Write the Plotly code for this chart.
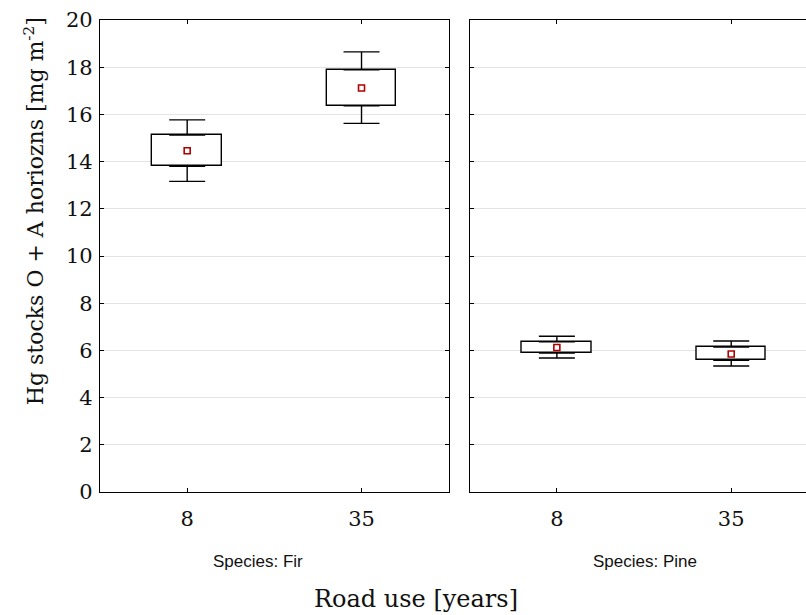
import plotly.graph_objects as go

# ---- data ----
categories = ["8", "35"]
species = ["Fir", "Pine"]
mean_fir = [14.46, 17.12]
q1_fir = [13.80, 16.36]
q3_fir = [15.12, 17.89]
low_fir = [13.16, 15.62]
high_fir = [15.77, 18.65]

mean_pine = [6.12, 5.85]
q1_pine = [5.89, 5.58]
q3_pine = [6.36, 6.14]
low_pine = [5.68, 5.34]
high_pine = [6.60, 6.40]

y_ticks = list(range(0, 21, 2))

W, H = 806, 615
ML, MR, MT, MB = 100, 0, 19.5, 122.7
PW = W - ML - MR
PH = H - MT - MB

SERIF = "DejaVu Serif"
SANS = "Liberation Sans"
TXT = "#111111"

fig = go.Figure()

def add_panel(xa, ya, q1, q3, lo, hi, mn):
    # box body (q1 .. q3)
    fig.add_trace(go.Bar(
        x=categories, y=[b - a for a, b in zip(q1, q3)], base=q1, width=0.4,
        marker=dict(color="white", line=dict(color="black", width=1.4)),
        xaxis=xa, yaxis=ya, showlegend=False, hoverinfo="skip"))
    # upper whisker (q3 .. hi)
    fig.add_trace(go.Scatter(
        x=categories, y=q3, mode="markers",
        marker=dict(size=1, color="rgba(0,0,0,0)"),
        error_y=dict(type="data", symmetric=False,
                     array=[h - b for b, h in zip(q3, hi)], arrayminus=[0, 0],
                     color="black", thickness=1.4, width=18),
        xaxis=xa, yaxis=ya, showlegend=False, hoverinfo="skip"))
    # lower whisker (lo .. q1)
    fig.add_trace(go.Scatter(
        x=categories, y=q1, mode="markers",
        marker=dict(size=1, color="rgba(0,0,0,0)"),
        error_y=dict(type="data", symmetric=False,
                     array=[0, 0], arrayminus=[a - l for a, l in zip(q1, lo)],
                     color="black", thickness=1.4, width=18),
        xaxis=xa, yaxis=ya, showlegend=False, hoverinfo="skip"))
    # mean
    fig.add_trace(go.Scatter(
        x=categories, y=mn, mode="markers",
        marker=dict(symbol="square-open", size=6, color="#b00000",
                    line=dict(width=1.6, color="#b00000")),
        xaxis=xa, yaxis=ya, showlegend=False, hoverinfo="skip"))

add_panel("x", "y", q1_fir, q3_fir, low_fir, high_fir, mean_fir)
add_panel("x2", "y2", q1_pine, q3_pine, low_pine, high_pine, mean_pine)

left_px = (100, 448.7)
right_px = (469.7, 806)
d1 = [(left_px[0] - ML) / PW, (left_px[1] - ML) / PW]
d2 = [(right_px[0] - ML) / PW, 1.0]
unit = (left_px[1] - left_px[0]) / 2.0
r2_end = -0.5 + (right_px[1] - right_px[0]) / unit

axis_common = dict(showline=True, linecolor="black", linewidth=1.3,
                   ticks="inside", ticklen=4, tickcolor="black", tickwidth=1.3,
                   tickfont=dict(family=SERIF, size=21, color=TXT),
                   zeroline=False)

fig.update_layout(
    width=W, height=H,
    margin=dict(l=ML, r=MR, t=MT, b=MB, pad=0),
    paper_bgcolor="white", plot_bgcolor="white",
    barmode="overlay", bargap=0,
    xaxis=dict(domain=d1, range=[-0.5, 1.5], type="category", mirror="ticks",
               showgrid=False, anchor="y", ticklabelstandoff=8, **axis_common),
    xaxis2=dict(domain=d2, range=[-0.5, r2_end], type="category", mirror="ticks",
                showgrid=False, anchor="y2", ticklabelstandoff=8, **axis_common),
    yaxis=dict(range=[0, 20], tickvals=y_ticks, mirror="ticks", showgrid=True,
               gridcolor="#e4e4e4", gridwidth=1, anchor="x", ticklabelstandoff=2,
               **axis_common),
    yaxis2=dict(range=[0, 20], tickvals=y_ticks, mirror=False, showgrid=True,
                gridcolor="#e4e4e4", gridwidth=1, showticklabels=False,
                anchor="x2", **axis_common),
)

def px_to_paper_x(px):
    return (px - ML) / PW

def px_to_paper_y(py):
    return (H - MB - py) / PH

fig.add_annotation(text="Hg stocks O + A horiozns [mg m<sup>-2</sup>]",
                   x=px_to_paper_x(34), y=px_to_paper_y(211), xref="paper", yref="paper",
                   textangle=-90, showarrow=False, xanchor="center", yanchor="middle",
                   font=dict(family=SERIF, size=22, color=TXT))
fig.add_annotation(text="Road use [years]",
                   x=px_to_paper_x(416), y=px_to_paper_y(599), xref="paper", yref="paper",
                   showarrow=False, xanchor="center", yanchor="middle",
                   font=dict(family=SERIF, size=24, color=TXT))
for name, cx in zip(species, [258, 644.5]):
    fig.add_annotation(text="Species: " + name,
                       x=px_to_paper_x(cx), y=px_to_paper_y(562), xref="paper", yref="paper",
                       showarrow=False, xanchor="center", yanchor="middle",
                       font=dict(family=SANS, size=17, color=TXT))

fig.write_html("out.html", config={"displayModeBar": False},
               post_script="document.body.style.margin='0';document.body.style.overflow='hidden';")
